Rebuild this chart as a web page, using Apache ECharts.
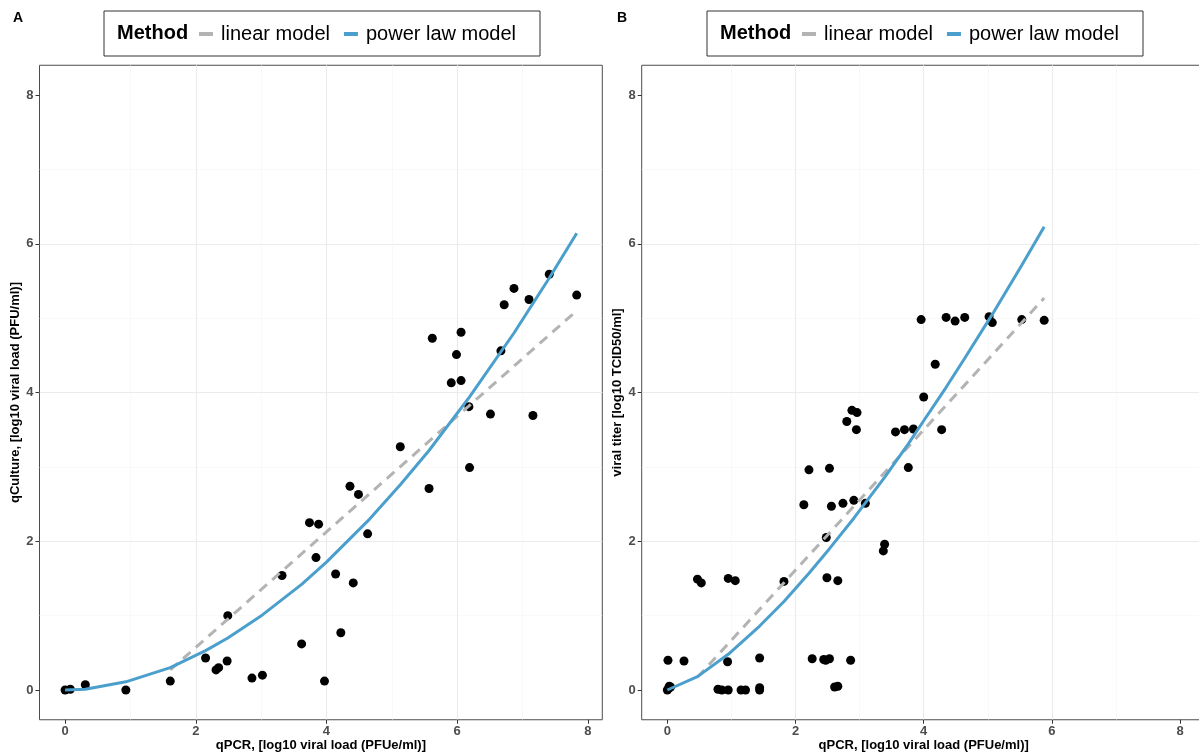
<!DOCTYPE html>
<html><head><meta charset="utf-8">
<script src="https://cdn.jsdelivr.net/npm/echarts@6/dist/echarts.min.js"></script>
<style>html,body{margin:0;padding:0;background:#fff}#c{width:1199px;height:755px}</style>
</head><body><div id="c"></div>
<script>
// ---- data ----
const tickValues = [0, 2, 4, 6, 8];
const panelLabels = ['A', 'B'];
const seriesNames = ['linear model', 'power law model'];
const legendTitle = 'Method';
const xTitle = 'qPCR, [log10 viral load (PFUe/ml)]';
const yTitleA = 'qCulture, [log10 viral load (PFU/ml)]';
const yTitleB = 'viral titer [log10 TCID50/ml]';

// Panel A observations
const aX = [0, 0.08, 0.31, 0.93, 1.61, 2.15, 2.31, 2.35, 2.48, 2.49, 2.86, 3.02, 3.32, 3.62, 3.74, 3.88, 3.84, 3.97, 4.14, 4.22, 4.36, 4.41, 4.49, 4.63, 5.13, 5.57, 6.19, 5.62, 6.06, 5.99, 5.91, 6.06, 6.67, 6.18, 6.51, 7.16, 6.72, 6.87, 7.10, 7.41, 7.83];
const aY = [0, 0.01, 0.07, 0, 0.12, 0.43, 0.27, 0.30, 0.39, 1.00, 0.16, 0.20, 1.54, 0.62, 2.25, 2.23, 1.78, 0.12, 1.56, 0.77, 2.74, 1.44, 2.63, 2.10, 3.27, 2.71, 2.99, 4.73, 4.81, 4.51, 4.13, 4.16, 4.56, 3.81, 3.71, 3.69, 5.18, 5.40, 5.25, 5.59, 5.31];
// Panel A fitted lines
const aLinX = [1.61, 7.83];
const aLinY = [0.27, 5.10];
const aPowX = [0, 0.31, 0.93, 1.61, 2.15, 2.49, 3.02, 3.62, 4.00, 4.63, 5.13, 5.57, 6.19, 6.87, 7.41, 7.83];
const aPowY = [0, 0.01, 0.11, 0.30, 0.53, 0.70, 1.01, 1.42, 1.72, 2.27, 2.76, 3.22, 3.94, 4.80, 5.54, 6.14];

// Panel B observations
const bX = [0, 0.02, 0.05, 0.03, 0.01, 0.26, 0.47, 0.53, 0.79, 0.85, 0.95, 0.94, 0.95, 1.06, 1.15, 1.22, 1.44, 1.44, 1.44, 1.82, 2.13, 2.21, 2.26, 2.44, 2.47, 2.53, 2.48, 2.49, 2.53, 2.56, 2.61, 2.66, 2.66, 2.74, 2.86, 2.91, 3.09, 3.37, 3.39, 3.76, 2.80, 2.88, 2.96, 2.95, 3.56, 3.70, 3.84, 4.28, 4.00, 4.18, 3.96, 4.35, 4.49, 4.64, 5.02, 5.07, 5.53, 5.88];
const bY = [0, 0.02, 0.04, 0.05, 0.40, 0.39, 1.49, 1.44, 0.01, 0, 0, 0.38, 1.50, 1.47, 0, 0, 0.03, 0, 0.43, 1.46, 2.49, 2.96, 0.42, 0.41, 0.40, 0.42, 2.05, 1.51, 2.98, 2.47, 0.04, 0.05, 1.47, 2.51, 0.40, 2.55, 2.51, 1.87, 1.96, 2.99, 3.61, 3.76, 3.73, 3.50, 3.47, 3.50, 3.51, 3.50, 3.94, 4.38, 4.98, 5.01, 4.96, 5.01, 5.02, 4.94, 4.98, 4.97];
// Panel B fitted lines
const bLinX = [0.47, 5.88];
const bLinY = [0.17, 5.27];
const bPowX = [0, 0.47, 0.95, 1.44, 1.82, 2.21, 2.53, 2.91, 3.39, 3.76, 4.00, 4.35, 4.64, 5.07, 5.53, 5.88];
const bPowY = [0, 0.18, 0.48, 0.86, 1.19, 1.57, 1.90, 2.31, 2.86, 3.31, 3.62, 4.07, 4.46, 5.05, 5.71, 6.23];

// ---- helpers ----
const zip = (xs, ys) => xs.map((x, i) => [x, ys[i]]);
const FONT = '"Liberation Sans", Arial, Helvetica, sans-serif';
const GRAY_LINE = '#b3b3b3';
const BLUE_LINE = '#4a9fcc';

function commonAxis() {
  return {
    nameMoveOverlap: false,
    nameTextStyle: { fontFamily: FONT, fontWeight: 'bold', fontSize: 13, color: '#000' },
    axisLine: { show: false, onZero: false },
    axisTick: { show: true, length: 4, customValues: tickValues, lineStyle: { color: '#333' } },
    axisLabel: { customValues: tickValues, fontFamily: FONT, fontWeight: 'bold', fontSize: 13, color: '#4d4d4d' },
    splitLine: { show: true, showMinLine: false, showMaxLine: false, lineStyle: { color: '#ebebeb', width: 1.1 } },
    minorTick: { show: false, splitNumber: 2 },
    minorSplitLine: { show: true, lineStyle: { color: '#f5f5f5', width: 0.6 } }
  };
}
function xAxis(idx, min, max) {
  const ax = commonAxis();
  Object.assign(ax, { type: 'value', gridIndex: idx, min: min, max: max, position: 'bottom',
    name: xTitle, nameLocation: 'middle', nameGap: 19 });
  ax.axisLabel.margin = 5;
  return ax;
}
function yAxis(idx, name) {
  const ax = commonAxis();
  Object.assign(ax, { type: 'value', gridIndex: idx, min: -0.4, max: 8.4, position: 'left',
    name: name, nameLocation: 'middle', nameGap: 18 });
  ax.axisLabel.margin = 6;
  return ax;
}
function scatter(idx, xs, ys) {
  return { type: 'scatter', name: 'obs' + idx, xAxisIndex: idx, yAxisIndex: idx, data: zip(xs, ys),
    symbolSize: 9, itemStyle: { color: '#000', opacity: 1 }, z: 2, silent: true };
}
function linFit(idx, xs, ys) {
  return { type: 'line', name: seriesNames[0], xAxisIndex: idx, yAxisIndex: idx, data: zip(xs, ys),
    showSymbol: false, color: GRAY_LINE, itemStyle: { color: GRAY_LINE },
    lineStyle: { color: GRAY_LINE, width: 3, type: [10, 7] }, z: 3, silent: true };
}
function powFit(idx, xs, ys) {
  return { type: 'line', name: seriesNames[1], xAxisIndex: idx, yAxisIndex: idx, data: zip(xs, ys),
    showSymbol: false, color: BLUE_LINE, itemStyle: { color: BLUE_LINE },
    lineStyle: { color: BLUE_LINE, width: 3 }, z: 4, silent: true };
}
function legend(left) {
  return {
    left: left, top: 24, padding: 0, orient: 'horizontal', itemGap: 14, itemWidth: 14, itemHeight: 4,
    icon: 'rect', selectedMode: false, z: 10,
    itemStyle: { borderWidth: 0 },
    textStyle: { fontFamily: FONT, fontSize: 20, color: '#000', padding: [0, 0, 0, 3] },
    data: seriesNames.map(n => ({ name: n, icon: 'rect' }))
  };
}
function legendBox(left) {
  return [
    { type: 'rect', left: left - 1.5, top: 8.5, shape: { width: 436, height: 45 },
      style: { fill: 'none', stroke: '#333', lineWidth: 1 }, z: 5 },
    { type: 'text', left: left + 14, top: 23, style: { text: legendTitle, fontFamily: FONT, fontWeight: 'bold', fontSize: 20, fill: '#000' }, z: 6 }
  ];
}

const chart = echarts.init(document.getElementById('c'), null, { renderer: 'canvas' });
chart.setOption({
  backgroundColor: '#fff',
  animation: false,
  title: [
    { text: panelLabels[0], left: 13, top: 11, padding: 0, textStyle: { fontFamily: FONT, fontWeight: 'bold', fontSize: 14, color: '#000' } },
    { text: panelLabels[1], left: 617, top: 11, padding: 0, textStyle: { fontFamily: FONT, fontWeight: 'bold', fontSize: 14, color: '#000' } }
  ],
  grid: [
    { left: 39.5, top: 65.25, width: 562.8, height: 654.5, show: true, outerBoundsMode: 'none', containLabel: false,
      borderColor: '#4d4d4d', borderWidth: 1, backgroundColor: '#fff' },
    { left: 641.7, top: 65.25, width: 564, height: 654.5, show: true, outerBoundsMode: 'none', containLabel: false,
      borderColor: '#4d4d4d', borderWidth: 1, backgroundColor: '#fff' }
  ],
  xAxis: [xAxis(0, -0.3915, 8.2215), xAxis(1, -0.4, 8.4)],
  yAxis: [yAxis(0, yTitleA), yAxis(1, yTitleB)],
  legend: [legend(199), legend(802)],
  graphic: [...legendBox(103), ...legendBox(706)],
  series: [
    scatter(0, aX, aY), linFit(0, aLinX, aLinY), powFit(0, aPowX, aPowY),
    scatter(1, bX, bY), linFit(1, bLinX, bLinY), powFit(1, bPowX, bPowY)
  ]
});
</script></body></html>
